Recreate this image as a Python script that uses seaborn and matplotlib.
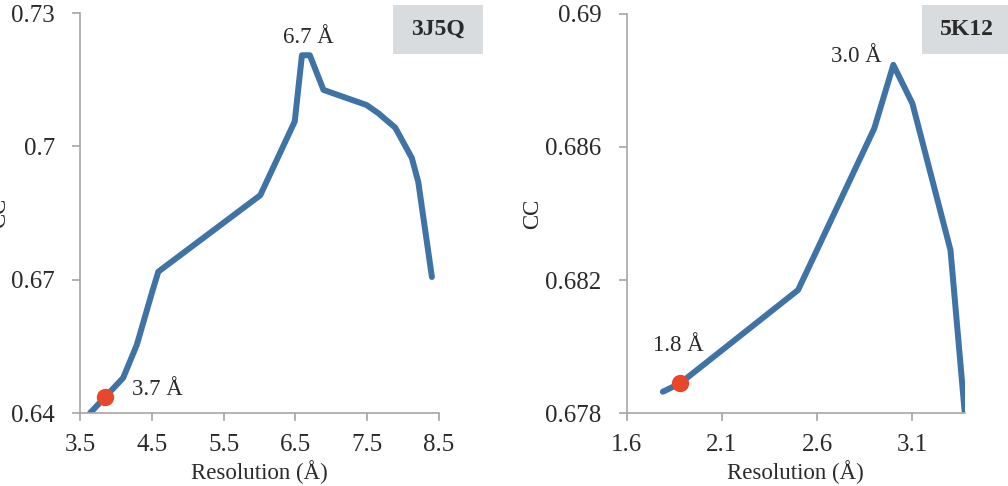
import pandas as pd
import matplotlib
matplotlib.use("Agg")
import matplotlib.pyplot as plt
import seaborn as sns
from matplotlib.patches import Rectangle

# 3J5Q curve
res_3j5q = [3.64, 3.85, 4.10, 4.29, 4.50, 4.59, 6.01, 6.49, 6.59, 6.70, 6.89, 7.49, 7.65, 7.89, 8.12, 8.21, 8.40]
cc_3j5q = [0.6400, 0.6436, 0.6479, 0.6553, 0.6670, 0.6718, 0.6890, 0.7056, 0.7205, 0.7205, 0.7127, 0.7093, 0.7075, 0.7042, 0.6974, 0.6920, 0.6706]
best_3j5q = (3.85, 0.6436)

# 5K12 curve
res_5k12 = [1.79, 1.88, 2.50, 2.90, 3.00, 3.10, 3.30, 3.375]
cc_5k12 = [0.67864, 0.67889, 0.6817, 0.68656, 0.68847, 0.68731, 0.6829, 0.6780]
best_5k12 = (1.88, 0.67889)

sns.set_style("ticks")
plt.rcParams['font.family'] = ['Liberation Serif', 'DejaVu Serif']
plt.rcParams['font.size'] = 16

LINE = '#3f73a6'
DOT = '#e8472a'
GREY = '#a6a6a6'
TXT = '#2a2a2a'

fig = plt.figure(figsize=(10.08, 4.86), dpi=100)
ax1 = fig.add_axes([0.0794, 0.1502, 0.3562, 0.8230])
ax2 = fig.add_axes([0.6217, 0.1502, 0.3356, 0.8210])


def style_axis(ax, xlim, ylim, xticks, yticks, ylab_x):
    ax.set_xlim(*xlim)
    ax.set_ylim(*ylim)
    ax.set_xticks(xticks)
    ax.set_yticks(yticks)
    ax.set_xticklabels([f"{t:g}" for t in xticks])
    ax.set_yticklabels([f"{t:g}" for t in yticks])
    sns.despine(ax=ax)
    for s in ['left', 'bottom']:
        ax.spines[s].set_color(GREY)
        ax.spines[s].set_linewidth(1.2)
    ax.tick_params(axis='both', colors=GREY, labelcolor=TXT, labelsize=18, length=6, width=1.2)
    ax.tick_params(axis='x', pad=9)
    ax.tick_params(axis='y', pad=12)
    ax.set_xlabel("Resolution (Å)", fontsize=16.5, color=TXT, labelpad=3)
    ax.set_ylabel("CC", fontsize=16.5, color=TXT)
    ax.yaxis.set_label_coords(ylab_x, 0.5)


df1 = pd.DataFrame({'res': res_3j5q, 'cc': cc_3j5q})
sns.lineplot(data=df1, x='res', y='cc', ax=ax1, color=LINE, linewidth=4.3, sort=False)
ax1.plot(*best_3j5q, 'o', color=DOT, markersize=11.5, zorder=5, clip_on=False)
style_axis(ax1, (3.5, 8.5), (0.64, 0.73), [3.5, 4.5, 5.5, 6.5, 7.5, 8.5], [0.64, 0.67, 0.70, 0.73], -0.195)
ax1.text(6.675, 0.7246, "6.7 Å", ha='center', va='center', fontsize=16.5, color=TXT)
ax1.text(4.22, 0.6452, "3.7 Å", ha='left', va='center', fontsize=16.5, color=TXT)

df2 = pd.DataFrame({'res': res_5k12, 'cc': cc_5k12})
sns.lineplot(data=df2, x='res', y='cc', ax=ax2, color=LINE, linewidth=4.3, sort=False)
ax2.plot(*best_5k12, 'o', color=DOT, markersize=11.5, zorder=5, clip_on=False)
style_axis(ax2, (1.6, 3.376), (0.678, 0.690), [1.6, 2.1, 2.6, 3.1], [0.678, 0.682, 0.686, 0.690], -0.247)
ax2.text(2.807, 0.68871, "3.0 Å", ha='center', va='center', fontsize=16.5, color=TXT)
ax2.text(1.869, 0.68004, "1.8 Å", ha='center', va='center', fontsize=16.5, color=TXT)

# name boxes in the top right of each panel
for x0, w, name in [(393, 90, "3J5Q"), (922, 90, "5K12")]:
    fig.patches.append(Rectangle((x0 / 1008, 1 - 54 / 486), w / 1008, 49 / 486,
                                 transform=fig.transFigure, facecolor='#d9dcdf',
                                 edgecolor='none', zorder=0))
    fig.text((x0 + 45) / 1008, 1 - 29.5 / 486, name, ha='center', va='center',
             fontsize=17, fontweight='bold', color=TXT)

fig.savefig("out.png", dpi=100)
